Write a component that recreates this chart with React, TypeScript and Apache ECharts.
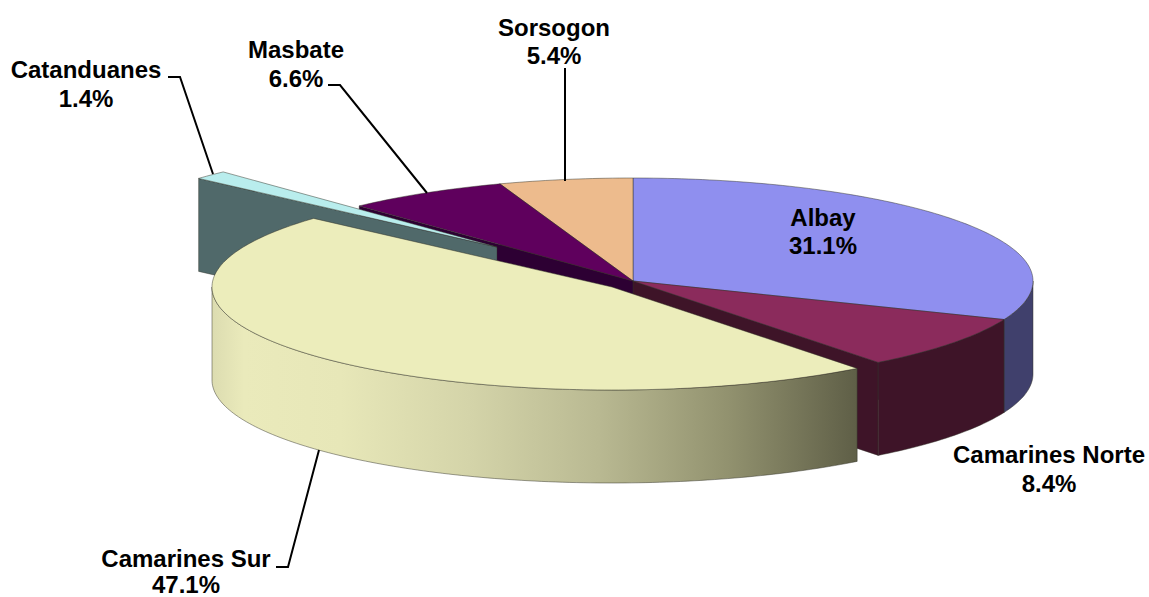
import React, { useEffect, useRef } from "react";
import * as echarts from "echarts";

const categories = ["Albay", "Camarines Norte", "Camarines Sur", "Catanduanes", "Masbate", "Sorsogon"];
const shares = [31.1, 8.4, 47.1, 1.4, 6.6, 5.4];
const paintOrder = [0, 5, 1, 4, 3, 2];

const topColors = ["#8f8fef", "#8b2b5c", "#ecedbb", "#b9eded", "#5f005d", "#edbb8d"];
const sideColors = ["#40406c", "#3e1428", "", "", "", ""];
const wallColors = ["#40406c", "#3e1428", "", "#50696a", "#2d0033", "#6a5440"];
const explode: number[][] = [[0, 0], [0, 0], [-21, 6], [-136, -34], [0, 0], [0, 0]];

const CX = 633, CY = 281, RX = 400, RY = 103, DEPTH = 93;
const EDGE = "rgba(50,50,40,0.6)";

const nameSpots: number[][] = [[823, 217], [1049, 454], [186, 558], [86, 69], [296, 49], [554, 27]];
const percentSpots: number[][] = [[823, 245], [1049, 483], [186, 584], [86, 98], [296, 78], [554, 55]];
const leaders: number[][][] = [
  [[168, 77], [180, 77], [213, 174]],
  [[328, 85], [340, 85], [427, 193]],
  [[565, 68], [565, 181]],
  [[276, 567], [288, 567], [319, 450]],
];

const rad = (d: number) => (d * Math.PI) / 180;

function rimPoint(t: number, ox: number, oy: number, drop = 0): number[] {
  return [CX + ox + RX * Math.sin(rad(t)), CY + oy - RY * Math.cos(rad(t)) + drop];
}

function arc(t0: number, t1: number, ox: number, oy: number, drop = 0): number[][] {
  const pts: number[][] = [];
  const n = Math.max(2, Math.ceil(Math.abs(t1 - t0)));
  for (let i = 0; i <= n; i++) pts.push(rimPoint(t0 + ((t1 - t0) * i) / n, ox, oy, drop));
  return pts;
}

function renderSlice(_params: any, api: any) {
  const i = api.value(0) as number;
  const total = shares.reduce((a, b) => a + b, 0);
  const before = shares.slice(0, i).reduce((a, b) => a + b, 0);
  const t0 = (before / total) * 360;
  const t1 = t0 + ((api.value(1) as number) / total) * 360;
  const [ox, oy] = explode[i];
  const apex = [CX + ox, CY + oy];
  const children: any[] = [];

  const wall = (t: number) => {
    const p = rimPoint(t, ox, oy);
    children.push({
      type: "polygon",
      shape: { points: [apex, p, [p[0], p[1] + DEPTH], [apex[0], apex[1] + DEPTH]] },
      style: { fill: wallColors[i], stroke: EDGE, lineWidth: 0.7 },
    });
  };
  if (t0 > 180 && t0 < 360) wall(t0);
  if (t1 > 0 && t1 < 180) wall(t1);

  const s = Math.max(t0, 90);
  const e = Math.min(t1, 270);
  if (s < e) {
    const fill =
      i === 2
        ? new echarts.graphic.LinearGradient(
            CX + ox - RX, 0, 856, 0,
            [
              { offset: 0, color: "#dcdcb0" },
              { offset: 0.05, color: "#eaeabb" },
              { offset: 0.2, color: "#e7e7b8" },
              { offset: 0.4, color: "#d4d4a9" },
              { offset: 0.6, color: "#b9b992" },
              { offset: 0.8, color: "#92926f" },
              { offset: 1, color: "#5f5f47" },
            ],
            true
          )
        : sideColors[i];
    children.push({
      type: "polygon",
      shape: { points: [...arc(s, e, ox, oy), ...arc(e, s, ox, oy, DEPTH)] },
      style: { fill, stroke: EDGE, lineWidth: 0.8 },
    });
  }

  children.push({
    type: "polygon",
    shape: { points: [apex, ...arc(t0, t1, ox, oy)] },
    style: { fill: topColors[i], stroke: EDGE, lineWidth: 0.8 },
  });
  return { type: "group", children };
}

const labelText = (text: string, spot: number[]) => ({
  type: "text",
  z: 21,
  silent: true,
  x: spot[0],
  y: spot[1],
  style: {
    text,
    fill: "#000000",
    font: 'bold 24px "Liberation Sans", Arial, sans-serif',
    lineHeight: 22,
    align: "center",
    verticalAlign: "middle",
  },
});

export default function App() {
  const ref = useRef<HTMLDivElement>(null);
  useEffect(() => {
    document.body.style.margin = "0";
    const chart = echarts.init(ref.current!, null, { renderer: "svg" });
    chart.setOption({
      animation: false,
      backgroundColor: "#ffffff",
      series: [
        {
          type: "custom",
          coordinateSystem: "none",
          silent: true,
          renderItem: renderSlice,
          data: paintOrder.map((i) => ({ name: categories[i], value: [i, shares[i]] })),
        },
      ],
      graphic: [
        ...leaders.map((points) => ({
          type: "polyline",
          z: 20,
          silent: true,
          shape: { points },
          style: { fill: "none", stroke: "#000000", lineWidth: 2 },
        })),
        ...categories.map((name, i) => labelText(name, nameSpots[i])),
        ...shares.map((v, i) => labelText(`${v.toFixed(1)}%`, percentSpots[i])),
      ],
    });
    return () => chart.dispose();
  }, []);
  return <div ref={ref} style={{ width: 1149, height: 597 }} />;
}
